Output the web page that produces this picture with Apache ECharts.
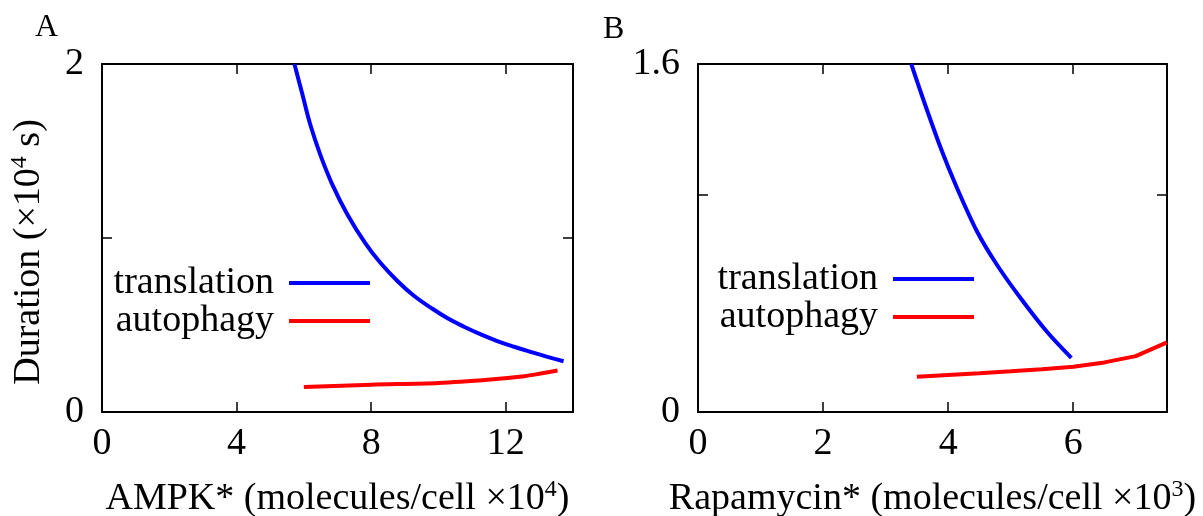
<!DOCTYPE html>
<html>
<head>
<meta charset="utf-8">
<script src="https://cdn.jsdelivr.net/npm/echarts@6/dist/echarts.min.js"></script>
<style>
html,body{margin:0;padding:0;background:#fff;}
#chart{width:1203px;height:516px;}
</style>
</head>
<body>
<div id="chart"></div>
<script>
// ---- Data ----
// Panel A: AMPK* (molecules/cell x10^4) vs Duration (x10^4 s)
const ampkTranslationX = [5.72, 5.95, 6.19, 6.49, 6.84, 7.29, 7.83, 8.28, 8.78, 9.27, 9.77, 10.26, 10.76, 11.26, 11.75, 12.25, 12.75, 13.24, 13.72];
const ampkTranslationY = [2.00, 1.830, 1.652, 1.478, 1.310, 1.137, 0.969, 0.856, 0.753, 0.668, 0.600, 0.540, 0.490, 0.446, 0.408, 0.375, 0.345, 0.317, 0.292];
const ampkAutophagyX = [6, 8, 10, 11.55, 12.55, 13.04, 13.54];
const ampkAutophagyY = [0.144, 0.157, 0.167, 0.187, 0.206, 0.221, 0.238];
// Panel B: Rapamycin* (molecules/cell x10^3) vs Duration (x10^4 s)
const rapaTranslationX = [3.41, 3.61, 3.88, 4.14, 4.46, 4.78, 5.16, 5.58, 5.97];
const rapaTranslationY = [1.60, 1.431, 1.215, 1.031, 0.831, 0.677, 0.523, 0.369, 0.249];
const rapaAutophagyX = [3.5, 4, 4.5, 5, 5.5, 6, 6.5, 7, 7.5];
const rapaAutophagyY = [0.162, 0.170, 0.178, 0.187, 0.197, 0.208, 0.228, 0.257, 0.32];
const seriesNames = ['translation', 'autophagy'];
const panelLabels = ['A', 'B'];
const xTitleA = 'AMPK* (molecules/cell ×10{sup|4})';
const xTitleB = 'Rapamycin* (molecules/cell ×10{sup|3})';
const yTitle = 'Duration (×10{sup|4} s)';

const FONT = '"Liberation Serif", "DejaVu Serif", serif';
const FS = 38;
const zip = (xs, ys) => xs.map((x, i) => [x, ys[i]]);

const richSup = { sup: { fontSize: 24, lineHeight: 36, verticalAlign: 'top', fontFamily: FONT, color: '#000' } };
const nameStyle = { fontSize: FS, fontFamily: FONT, color: '#000', lineHeight: 42, rich: richSup };

function xAxes(grid, max, interval, name) {
  const common = {
    gridIndex: grid, type: 'value', min: 0, max: max, interval: interval,
    splitLine: { show: false },
    axisLine: { onZero: false, lineStyle: { color: '#000', width: 2 } },
    axisTick: { inside: true, length: 10, lineStyle: { color: '#000', width: 1.5 } }
  };
  return [
    Object.assign({}, common, {
      position: 'bottom',
      axisLabel: { margin: 13, fontSize: FS, fontFamily: FONT, color: '#000',
        formatter: v => (v === max ? '' : String(v)) },
      name: name, nameLocation: 'middle', nameGap: 66, nameTextStyle: nameStyle
    }),
    Object.assign({}, common, { position: 'top', axisLabel: { show: false } })
  ];
}
function yAxes(grid, max, interval, name) {
  const common = {
    gridIndex: grid, type: 'value', min: 0, max: max, interval: interval,
    splitLine: { show: false },
    axisLine: { onZero: false, lineStyle: { color: '#000', width: 2 } },
    axisTick: { inside: true, length: 10, lineStyle: { color: '#000', width: 1.5 } }
  };
  const left = Object.assign({}, common, {
    position: 'left',
    axisLabel: { margin: 18, fontSize: FS, fontFamily: FONT, color: '#000',
      formatter: v => (v === 0 || Math.abs(v - max) < 1e-9 ? String(v) : '') }
  });
  if (name) {
    left.name = name; left.nameLocation = 'middle'; left.nameGap = 52;
    left.nameRotate = 90;
    left.nameTextStyle = Object.assign({}, nameStyle, { padding: [0, 28, 0, 0] });
  }
  return [left, Object.assign({}, common, { position: 'right', axisLabel: { show: false } })];
}

function lineSeries(name, xi, yi, data, color, smooth) {
  return { name: name, type: 'line', xAxisIndex: xi, yAxisIndex: yi, data: data,
    showSymbol: false, symbol: 'none', smooth: smooth, color: color,
    lineStyle: { color: color, width: 4 } };
}

function legendFor(right, top) {
  return { data: seriesNames, orient: 'vertical', align: 'right', right: right, top: top,
    icon: 'rect', itemWidth: 81, itemHeight: 4, itemGap: 0, padding: 0,
    selectedMode: false,
    textStyle: { fontSize: FS, lineHeight: 35, fontFamily: FONT, color: '#000', padding: [0, 10, 0, 0] } };
}

const chart = echarts.init(document.getElementById('chart'), null, { renderer: 'canvas' });
chart.setOption({
  animation: false,
  backgroundColor: '#fff',
  textStyle: { fontFamily: FONT },
  title: [
    { text: panelLabels[0], left: 35, top: 12, padding: 0,
      textStyle: { fontSize: 32, fontWeight: 'normal', fontFamily: FONT, color: '#000' } },
    { text: panelLabels[1], left: 603, top: 14, padding: 0,
      textStyle: { fontSize: 32, fontWeight: 'normal', fontFamily: FONT, color: '#000' } }
  ],
  grid: [
    { left: 102, right: 630, top: 64, bottom: 104, containLabel: false, outerBoundsMode: 'none' },
    { left: 698, right: 36, top: 64, bottom: 104, containLabel: false, outerBoundsMode: 'none' }
  ],
  legend: [legendFor(833, 264), legendFor(229, 260)],
  xAxis: [].concat(xAxes(0, 14, 4, xTitleA), xAxes(1, 7.5, 2, xTitleB)),
  yAxis: [].concat(yAxes(0, 2, 1, yTitle), yAxes(1, 1.6, 1, null)),
  series: [
    lineSeries(seriesNames[0], 0, 0, zip(ampkTranslationX, ampkTranslationY), '#0000ff', 0.4),
    lineSeries(seriesNames[1], 0, 0, zip(ampkAutophagyX, ampkAutophagyY), '#ff0000', 0.3),
    lineSeries(seriesNames[0], 2, 2, zip(rapaTranslationX, rapaTranslationY), '#0000ff', 0.3),
    lineSeries(seriesNames[1], 2, 2, zip(rapaAutophagyX, rapaAutophagyY), '#ff0000', false)
  ]
});
</script>
</body>
</html>
